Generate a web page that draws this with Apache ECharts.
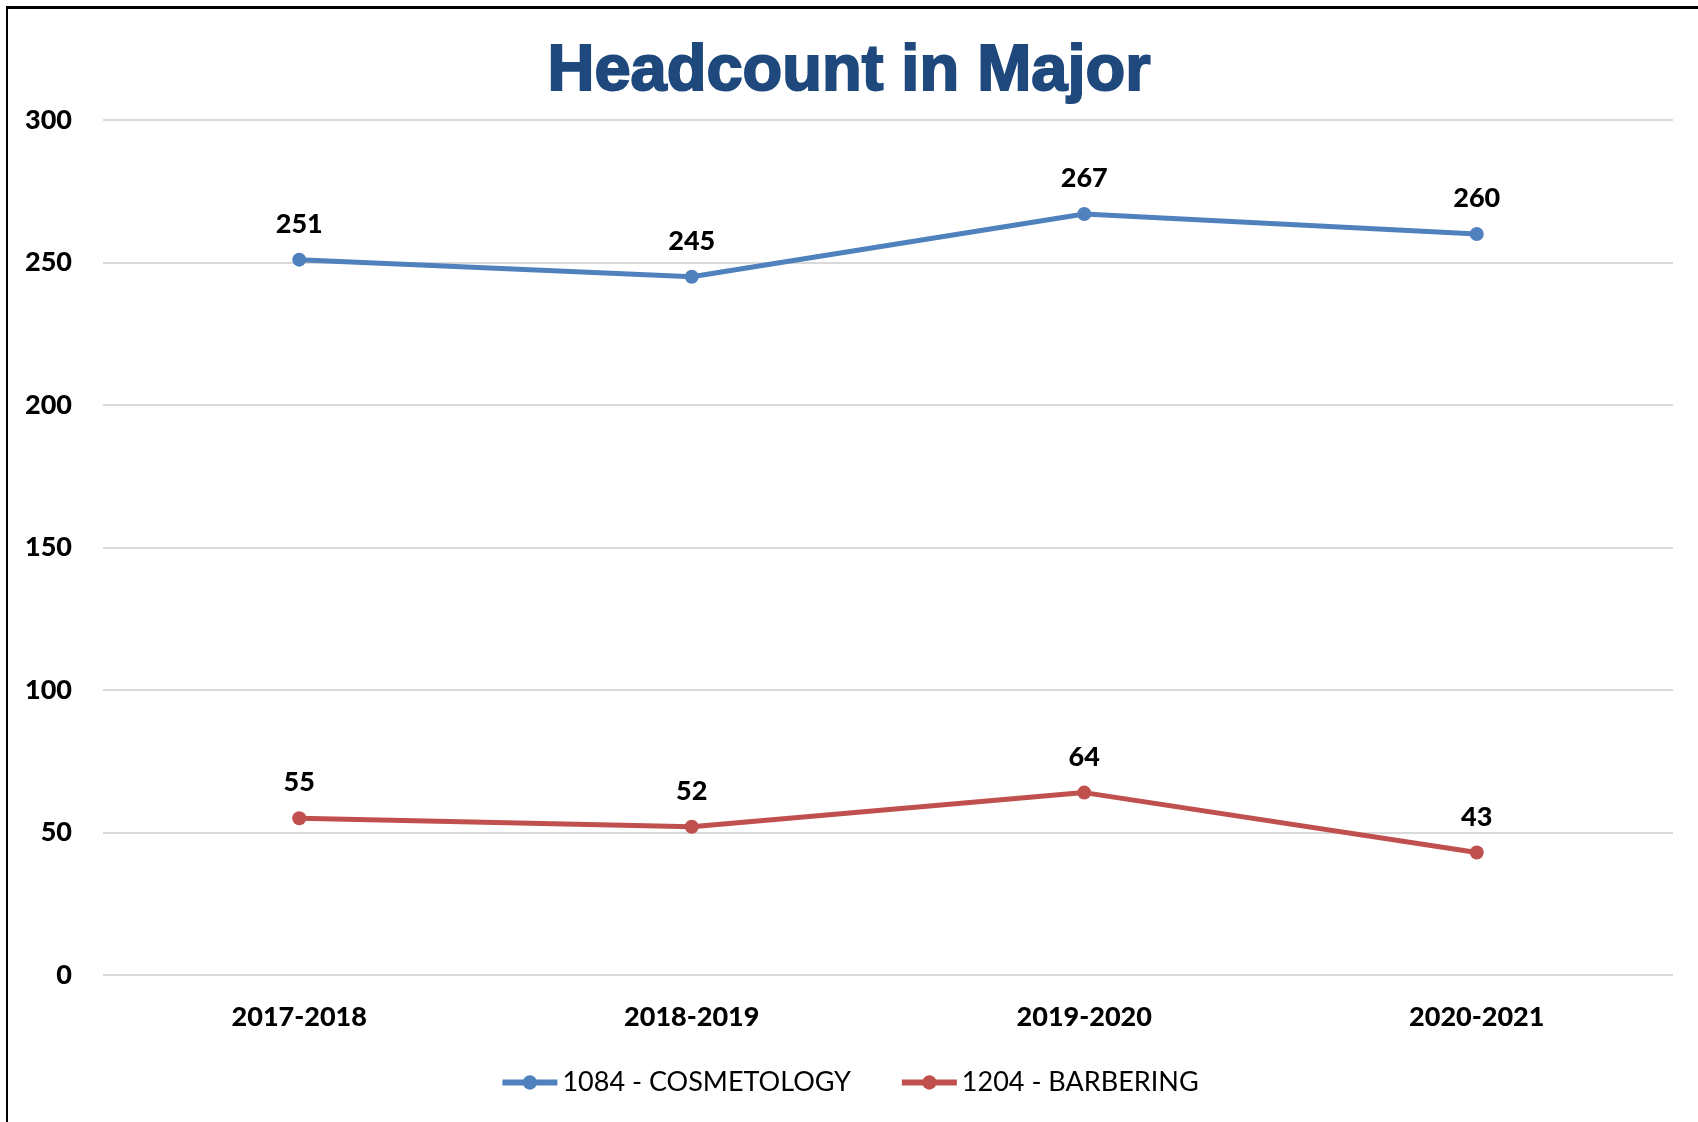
<!DOCTYPE html>
<html>
<head>
<meta charset="utf-8">
<script src="https://cdn.jsdelivr.net/npm/echarts@6/dist/echarts.min.js"></script>
<style>
  html, body { margin: 0; padding: 0; background: #fff; }
  #chart { position: absolute; left: 0; top: 0; width: 1698px; height: 1122px; }
  #frame { position: absolute; left: 6px; top: 6px; width: 1800px; height: 1200px;
           border-top: 3px solid #000; border-left: 2px solid #000; pointer-events: none; }
</style>
</head>
<body>
<div id="chart"></div>
<div id="frame"></div>
<script>
const categories = ['2017-2018', '2018-2019', '2019-2020', '2020-2021'];
const cosmetology = [251, 245, 267, 260];
const barbering = [55, 52, 64, 43];
const seriesNames = ['1084 - COSMETOLOGY', '1204 - BARBERING'];
const titleText = 'Headcount in Major';

const chart = echarts.init(document.getElementById('chart'));
const labelFont = 'Lato, "Open Sans", sans-serif';
function mk(name, data, color) {
  return {
    name: name, type: 'line', data: data,
    symbol: 'circle', symbolSize: 14,
    lineStyle: { color: color, width: 5 },
    itemStyle: { color: color },
    label: { show: true, position: 'top', distance: 15, color: '#000',
             fontFamily: labelFont, fontWeight: 900, fontSize: 27 },
    animation: false
  };
}
chart.setOption({
  animation: false,
  title: { text: titleText, left: 'center', top: 35,
           textStyle: { fontFamily: '"Liberation Sans", Arial, sans-serif', fontWeight: 'bold',
                        fontSize: 65, color: '#1F497D',
                        textBorderColor: '#1F497D', textBorderWidth: 2 } },
  grid: { left: 103, right: 25, top: 120, bottom: 147, containLabel: false },
  legend: {
    bottom: 21, left: 'center', itemWidth: 55, itemHeight: 18, itemGap: 48,
    data: seriesNames,
    lineStyle: { width: 6 },
    textStyle: { fontFamily: labelFont, fontSize: 27, color: '#000' }
  },
  xAxis: {
    type: 'category', data: categories, boundaryGap: true,
    axisLine: { show: false }, axisTick: { show: false },
    axisLabel: { margin: 29, color: '#000', fontFamily: labelFont, fontWeight: 900, fontSize: 27 }
  },
  yAxis: {
    type: 'value', min: 0, max: 300, interval: 50,
    axisLine: { show: false }, axisTick: { show: false },
    splitLine: { lineStyle: { color: '#D9D9D9', width: 2 } },
    axisLabel: { margin: 31, color: '#000', fontFamily: labelFont, fontWeight: 900, fontSize: 27 }
  },
  series: [mk(seriesNames[0], cosmetology, '#4F81BD'), mk(seriesNames[1], barbering, '#C0504D')]
});
</script>
</body>
</html>
